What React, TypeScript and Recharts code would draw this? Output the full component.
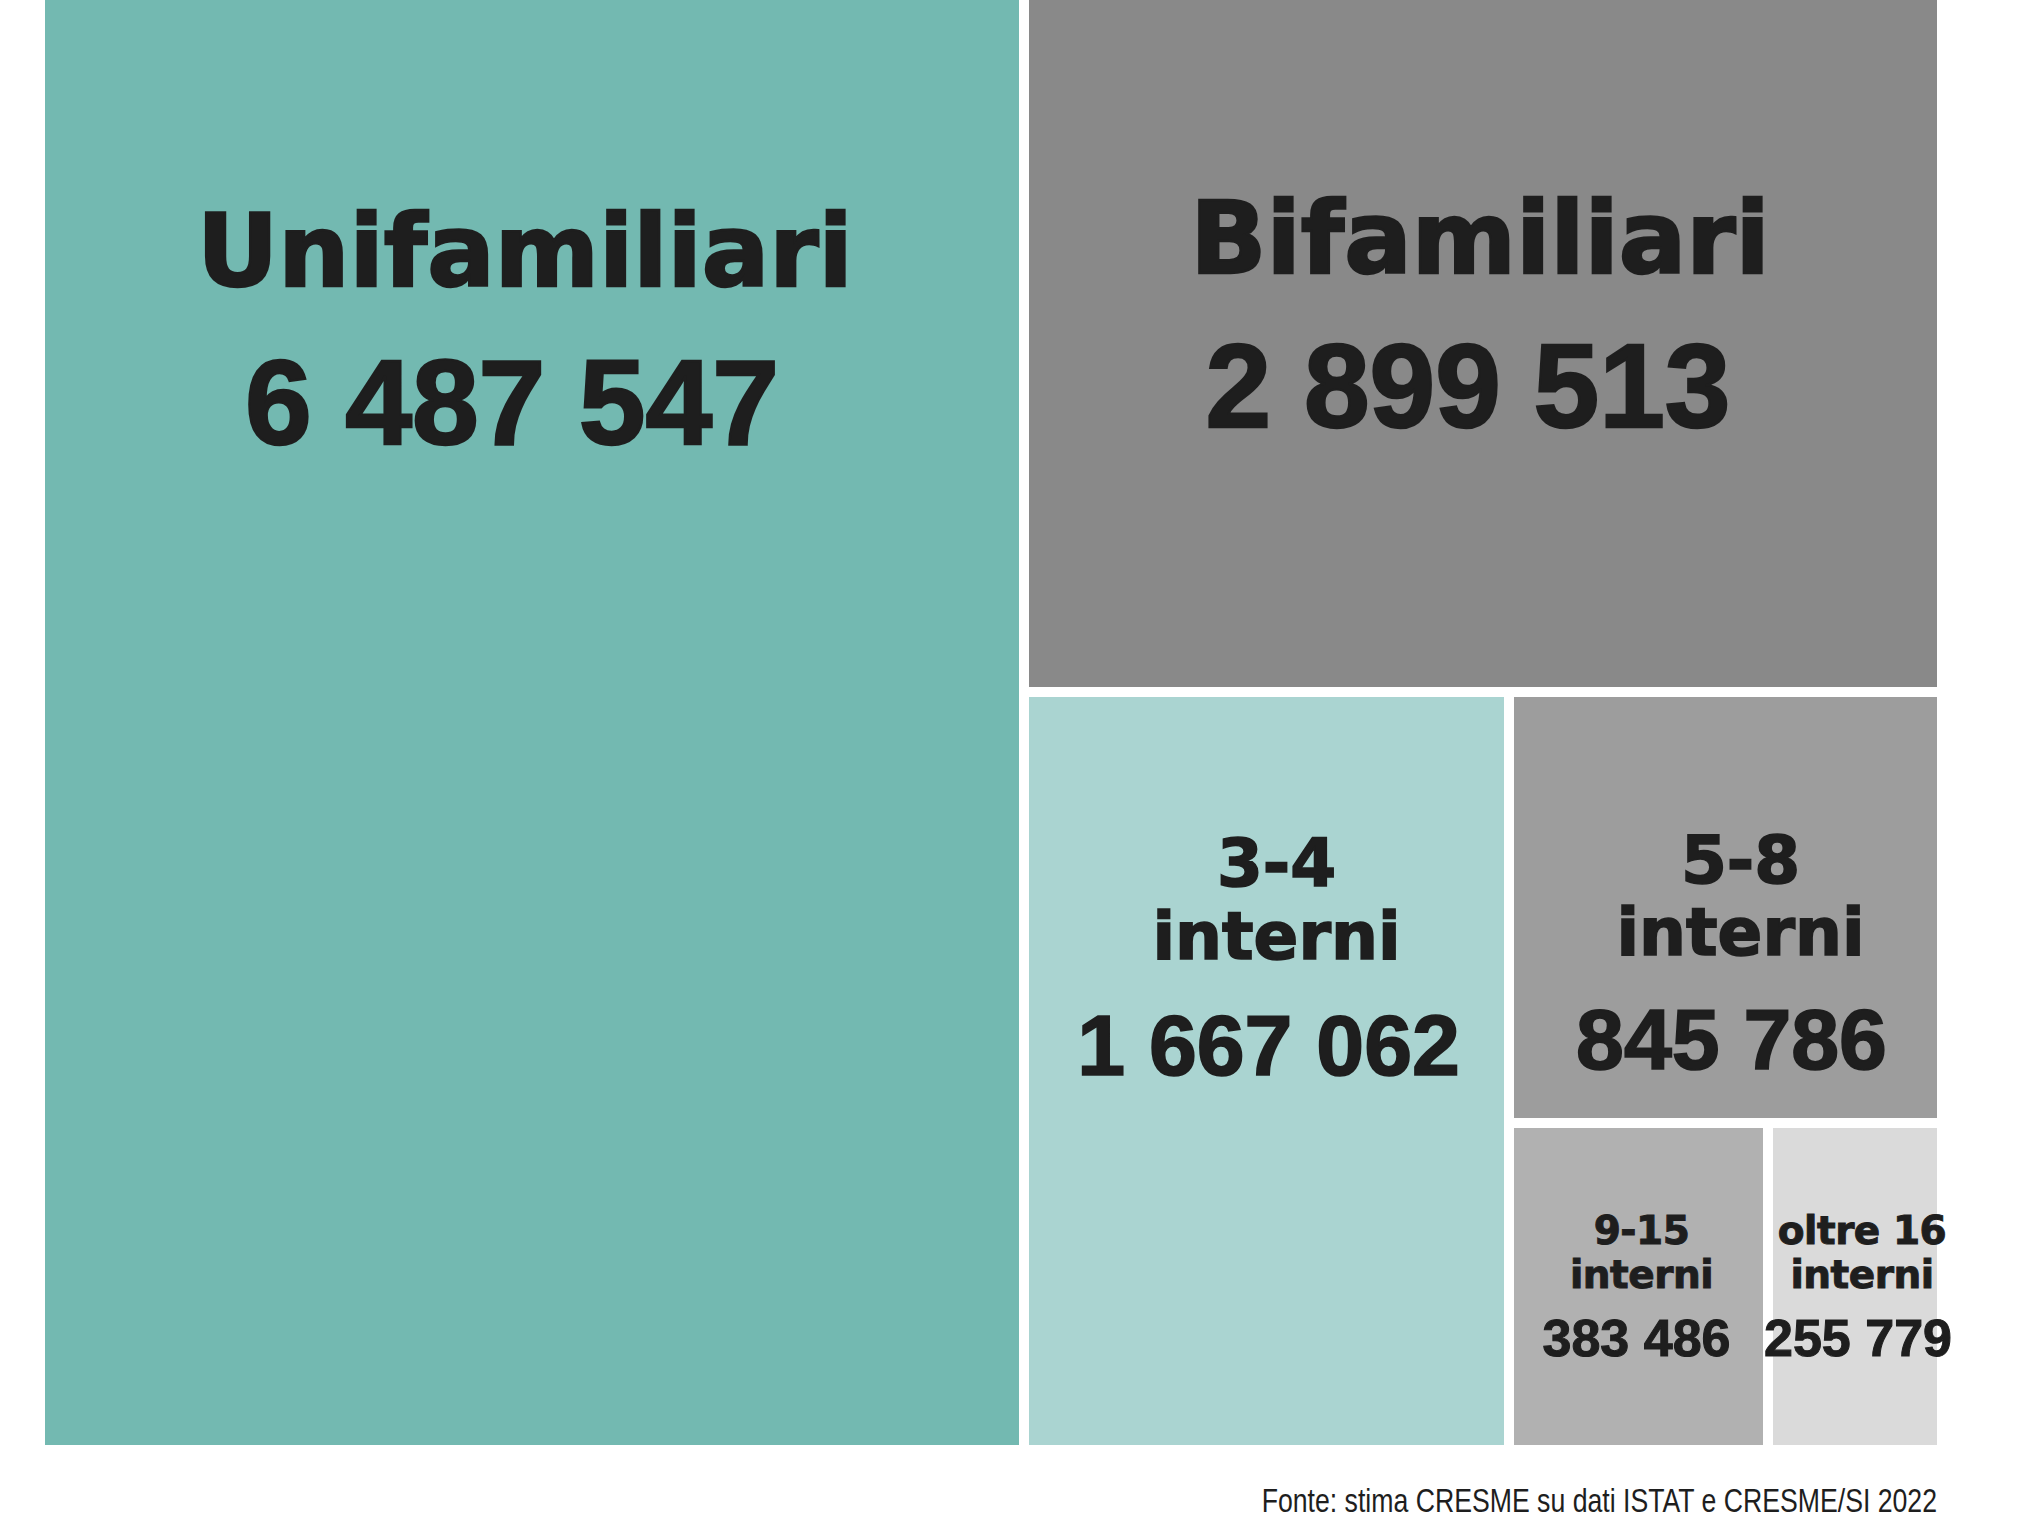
import React from 'react';
import { Treemap } from 'recharts';

// ---- data ----
const categories = ['Unifamiliari', 'Bifamiliari', '3-4 interni', '5-8 interni', '9-15 interni', 'oltre 16 interni'];
const nameLines = [['Unifamiliari'], ['Bifamiliari'], ['3-4', 'interni'], ['5-8', 'interni'], ['9-15', 'interni'], ['oltre 16', 'interni']];
const values = [6487547, 2899513, 1667062, 845786, 383486, 255779];
const sourceNote = 'Fonte: stima CRESME su dati ISTAT e CRESME/SI 2022';

// ---- styles ----
const colors = ['#73B9B1', '#898989', '#AAD4D1', '#9D9D9D', '#B1B1B1', '#DADADA'];
const labelStyles = [
  { nameSize: 100, valueSize: 120, nameBase: [291], valueBase: 449, nameDx: -7, valueDx: -20 },
  { nameSize: 100, valueSize: 118, nameBase: [278], valueBase: 432, nameDx: -3, valueDx: -15 },
  { nameSize: 66, valueSize: 86, nameBase: [194, 267], valueBase: 383, nameDx: 10, valueDx: 2 },
  { nameSize: 66, valueSize: 86, nameBase: [191, 263], valueBase: 377, nameDx: 15, valueDx: 6 },
  { nameSize: 39, valueSize: 52, nameBase: [121, 165], valueBase: 233, nameDx: 3, valueDx: -2 },
  { nameSize: 39, valueSize: 52, nameBase: [121, 165], valueBase: 233, nameDx: 7, valueDx: 3 },
];

const GAP = 10;
const TEXT = '#1E1E1E';
const NAME_FONT = "'DejaVu Sans', sans-serif";
const VALUE_FONT = "'Liberation Sans', Arial, sans-serif";

const data = categories.map((c, i) => ({ name: c, value: values[i] }));

const fmt = (v: number) => String(v).replace(/\B(?=(\d{3})+(?!\d))/g, ' ');

function CellContent(props: any) {
  const { x, y, width, height, depth, name } = props;
  const i = categories.indexOf(name);
  if (depth !== 1 || i < 0) return <g />;
  const st = labelStyles[i];
  const cx = x + width / 2;
  return (
    <g>
      <rect x={x} y={y} width={width} height={height} fill={colors[i]} stroke="#ffffff" strokeWidth={GAP} />
      {nameLines[i].map((line, k) => (
        <text
          key={k}
          x={cx + st.nameDx}
          y={y + st.nameBase[k]}
          textAnchor="middle"
          fontFamily={NAME_FONT}
          fontWeight={700}
          fontSize={st.nameSize}
          letterSpacing={st.nameSize < 50 ? -0.5 : 0}
          fill={TEXT}
          stroke={TEXT}
          strokeWidth={st.nameSize * 0.025}
        >
          {line}
        </text>
      ))}
      <text
        x={cx + st.valueDx}
        y={y + st.valueBase}
        textAnchor="middle"
        fontFamily={VALUE_FONT}
        fontWeight={700}
        fontSize={st.valueSize}
        fill={TEXT}
        stroke={TEXT}
        strokeWidth={st.valueSize * 0.02}
      >
        {fmt(values[i])}
      </text>
    </g>
  );
}

export default function App() {
  return (
    <div style={{ position: 'absolute', left: 0, top: 0, width: 2019, height: 1524, overflow: 'hidden', background: '#ffffff' }}>
      <style>{'.tm svg { overflow: visible; }'}</style>
      <div className="tm" style={{ position: 'absolute', left: 40, top: -5, width: 1902, height: 1455 }}>
        <Treemap
          width={1902}
          height={1455}
          data={data}
          dataKey="value"
          nameKey="name"
          aspectRatio={1}
          isAnimationActive={false}
          content={<CellContent />}
        />
      </div>
      <div
        style={{
          position: 'absolute',
          left: 0,
          top: 1485,
          width: 1937,
          textAlign: 'right',
          fontFamily: "'Liberation Sans', Arial, sans-serif",
          fontSize: 32.5,
          lineHeight: '33px',
          color: '#1E1E1E',
          transform: 'scaleX(0.82)',
          transformOrigin: 'right center',
          whiteSpace: 'nowrap',
        }}
      >
        {sourceNote}
      </div>
    </div>
  );
}
